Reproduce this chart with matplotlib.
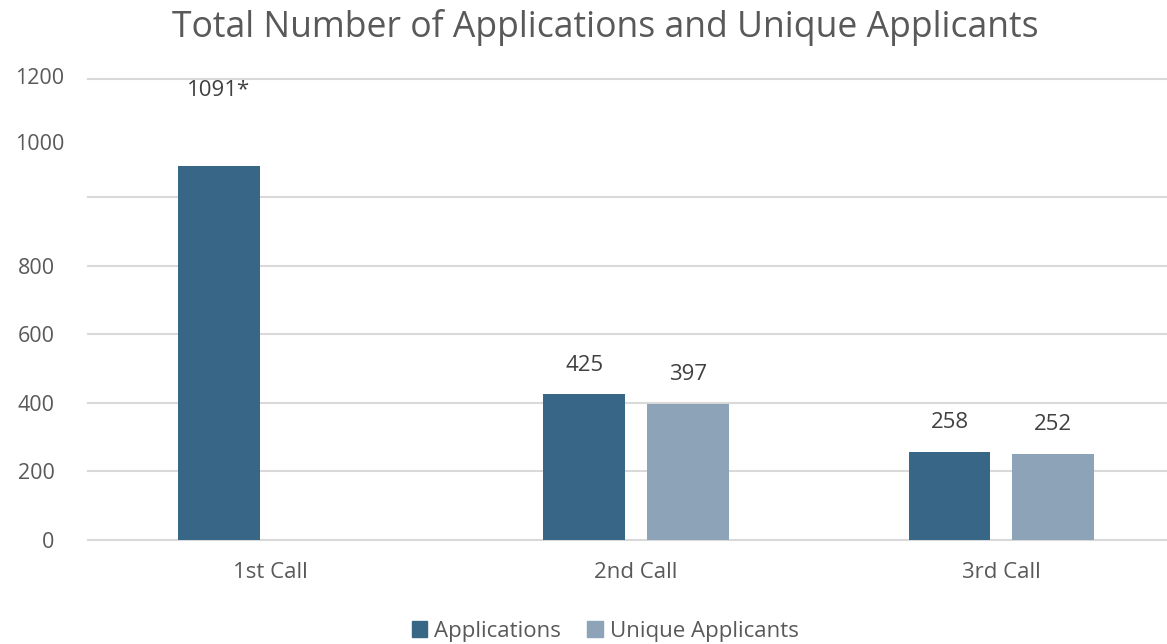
import matplotlib.pyplot as plt
import numpy as np
from matplotlib.patches import Patch

# data
calls = ['1st Call', '2nd Call', '3rd Call']
applications = [1091, 425, 258]
unique_applicants = [np.nan, 397, 252]
app_labels = ['1091*', '425', '258']
uniq_labels = ['', '397', '252']
tick_values = [0, 200, 400, 600, 800]
grid_values = [0, 200, 400, 600, 800, 1000]

plt.rcParams['font.family'] = ['Open Sans', 'DejaVu Sans']
text_grey = '#595959'
c_app = '#386687'
c_uniq = '#8DA3B8'

fig = plt.figure(figsize=(11.67, 6.44), dpi=100)
ax = fig.add_axes([88 / 1167, 1 - 540 / 644, 1 - 88 / 1167, (540 - 78.7) / 644])

ymax = 1345
x = np.arange(len(calls))
w = 0.224
off = 0.142

for g in grid_values + [ymax]:
    ax.axhline(g, color='#D9D9D9', lw=1.5, zorder=0, clip_on=False)

ax.bar(x - off, applications, w, color=c_app, zorder=2)
ax.bar(x + off, unique_applicants, w, color=c_uniq, zorder=2)

# value labels (the 1091* one was moved to the top in the original)
for i, (v, lab) in enumerate(zip(applications, app_labels)):
    yv = 1310 if v > ymax * 0.75 else v + 85
    ax.text(x[i] - off, yv, lab, ha='center', va='center', fontsize=16, color='#404040')
for i, (v, lab) in enumerate(zip(unique_applicants, uniq_labels)):
    if lab:
        ax.text(x[i] + off, v + 85, lab, ha='center', va='center', fontsize=16, color='#404040')

ax.set_xlim(-0.4995, 2.453)
ax.set_ylim(0, ymax)
ax.set_xticks(x)
ax.set_xticklabels(calls, fontsize=16, color=text_grey)
ax.set_yticks(tick_values)
ax.set_yticklabels([str(t) for t in tick_values], fontsize=15.5, color=text_grey)
ax.tick_params(length=0)
ax.tick_params(axis='x', pad=16)
ax.tick_params(axis='y', pad=24)
for s in ax.spines.values():
    s.set_visible(False)

# the 1000 / 1200 labels sit off the regular scale in the original
for val, ypix in [('1000', 145), ('1200', 78)]:
    fig.text(64 / 1167, 1 - ypix / 644, val, ha='right', va='center', fontsize=15.5, color=text_grey)

fig.text(0.519, 1 - 27 / 644, 'Total Number of Applications and Unique Applicants',
         ha='center', va='center', fontsize=25.6, color=text_grey)

handles = [Patch(color=c_app, label='Applications'), Patch(color=c_uniq, label='Unique Applicants')]
fig.legend(handles=handles, loc='center', bbox_to_anchor=(605 / 1167, 1 - 631 / 644), ncol=2,
           frameon=False, fontsize=16, handlelength=0.7, handleheight=0.7, handletextpad=0.3,
           columnspacing=1.2, labelcolor=text_grey)

fig.savefig('out.png', dpi=100)
